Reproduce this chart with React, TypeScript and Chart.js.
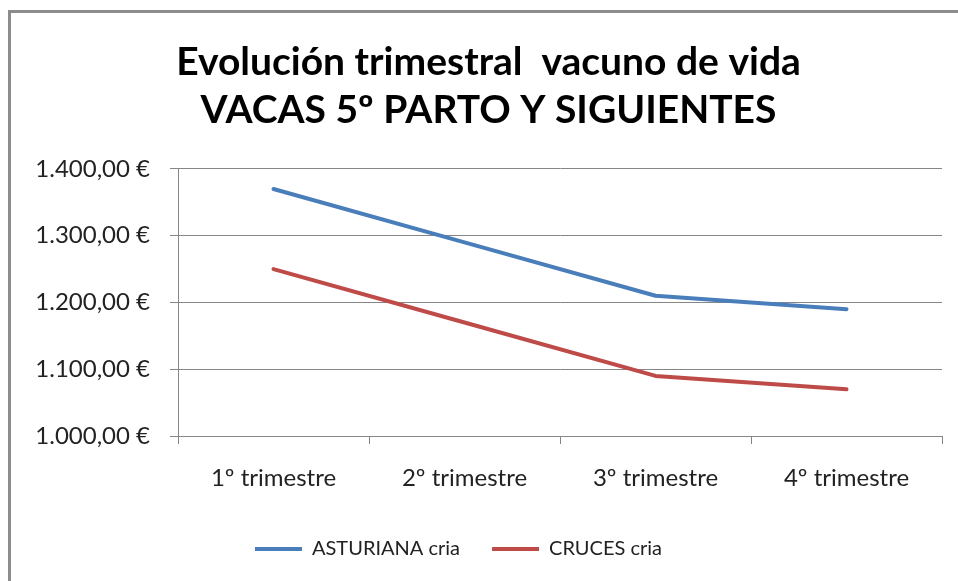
import React, { useEffect, useRef } from "react";
import { Chart, registerables } from "chart.js";

Chart.register(...registerables);

const titleLines = ["Evolución trimestral  vacuno de vida", "VACAS 5º PARTO Y SIGUIENTES"];
const categories = ["1º trimestre", "2º trimestre", "3º trimestre", "4º trimestre"];
const asturiana = [1370, 1290, 1210, 1190];
const cruces = [1250, 1170, 1090, 1070];
const seriesNames = ["ASTURIANA cria", "CRUCES cria"];
const yMin = 1000;
const yMax = 1400;
const yStep = 100;

const FONT = "Lato, 'Open Sans', sans-serif";
const GRID = "#868686";

function formatEuro(v: number): string {
  const thousands = Math.floor(v / 1000);
  const rest = String(Math.round(v % 1000)).padStart(3, "0");
  return `${thousands}.${rest},00 €`;
}

const legendShift = {
  id: "legendShift",
  afterLayout(chart: any) {
    if (chart.legend) {
      chart.legend.left -= 30;
      chart.legend.right -= 30;
    }
  },
};

export default function App() {
  const ref = useRef<HTMLCanvasElement | null>(null);
  useEffect(() => {
    if (!ref.current) return;
    const chart = new Chart(ref.current, {
      type: "line",
      data: {
        labels: categories,
        datasets: [
          {
            label: seriesNames[0],
            data: asturiana,
            borderColor: "#4a7ebb",
            backgroundColor: "#4a7ebb",
            borderWidth: 4,
            pointRadius: 0,
            borderCapStyle: "round",
            borderJoinStyle: "round",
            tension: 0,
          },
          {
            label: seriesNames[1],
            data: cruces,
            borderColor: "#be4b48",
            backgroundColor: "#be4b48",
            borderWidth: 4,
            pointRadius: 0,
            borderCapStyle: "round",
            borderJoinStyle: "round",
            tension: 0,
          },
        ],
      },
      plugins: [legendShift],
      options: {
        animation: false,
        responsive: true,
        maintainAspectRatio: false,
        layout: { padding: { top: 0, right: 16, bottom: 12, left: 24 } },
        plugins: {
          tooltip: { enabled: false },
          title: {
            display: true,
            text: titleLines,
            color: "#000",
            font: { family: FONT, size: 39, weight: "bold", lineHeight: 1.23 },
            padding: { top: 25, bottom: 35 },
          },
          legend: {
            position: "bottom",
            labels: {
              color: "#222",
              font: { family: FONT, size: 20 },
              boxWidth: 47,
              boxHeight: 4,
              padding: 32,
              generateLabels: (c: any) => {
                const items = Chart.defaults.plugins.legend.labels.generateLabels(c);
                return items.map((it: any) => ({ ...it, lineWidth: 0 }));
              },
            },
          },
        },
        scales: {
          x: {
            offset: true,
            afterFit: (s: any) => {
              s.height = 71;
            },
            grid: {
              display: true,
              offset: true,
              drawOnChartArea: false,
              drawTicks: true,
              tickLength: 8,
              color: GRID,
            },
            border: { display: true, color: GRID },
            ticks: { color: "#222", font: { family: FONT, size: 24 }, padding: 20 },
          },
          y: {
            min: yMin,
            max: yMax,
            afterFit: (s: any) => {
              s.width = 143;
            },
            grid: { color: GRID, tickLength: 8, drawTicks: true },
            border: { display: true, color: GRID },
            ticks: {
              stepSize: yStep,
              color: "#222",
              font: { family: FONT, size: 24 },
              padding: 20,
              callback: (v: any) => formatEuro(Number(v)),
            },
          },
        },
      },
    });
    return () => chart.destroy();
  }, []);

  return (
    <div
      style={{
        position: "fixed",
        left: 8,
        top: 10,
        right: 0,
        bottom: 0,
        borderLeft: "3px solid #8c8c8c",
        borderTop: "3px solid #8c8c8c",
        background: "#fff",
      }}
    >
      <canvas ref={ref} />
    </div>
  );
}
